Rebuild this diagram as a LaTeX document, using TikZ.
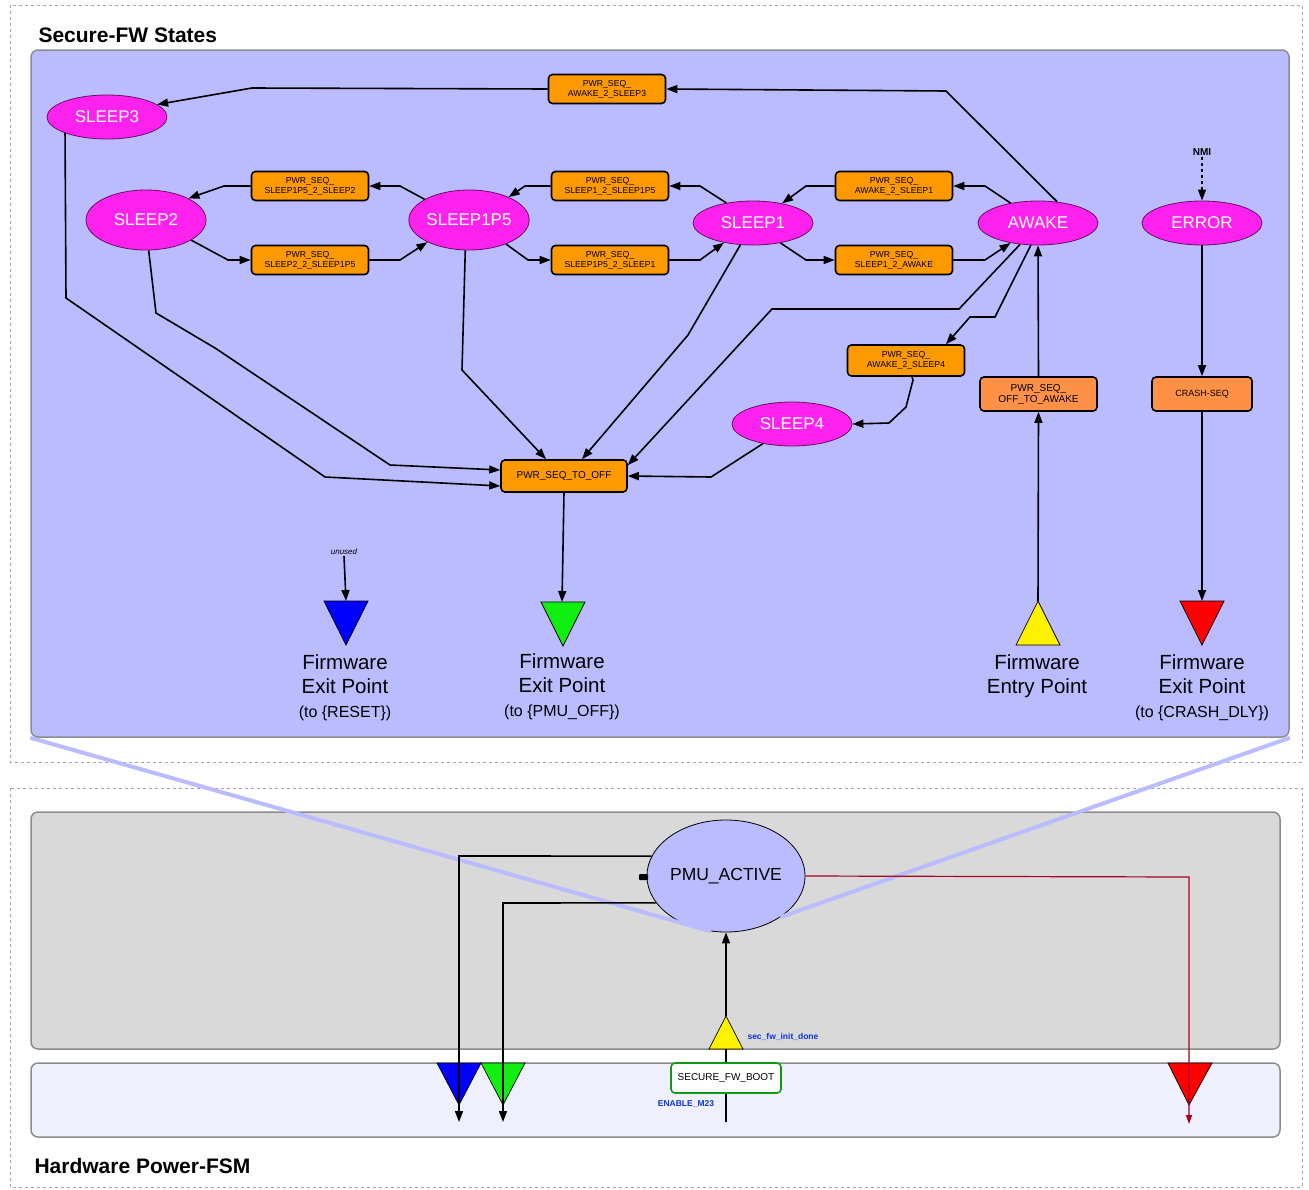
\documentclass[tikz,border=0pt]{standalone}
\usepackage{fontspec}
\setmainfont{Liberation Sans}
\usetikzlibrary{arrows.meta,shapes.geometric,calc}

\definecolor{panel}{HTML}{BBBBFF}
\definecolor{mag}{HTML}{FF22EE}
\definecolor{orng}{HTML}{FF9900}
\definecolor{salmon}{HTML}{FF9147}
\definecolor{hwgray}{HTML}{D9D9D9}
\definecolor{hwlight}{HTML}{EEF0FD}
\definecolor{darkred}{HTML}{A8001E}
\definecolor{lblblue}{HTML}{1133DD}
\definecolor{bordergray}{HTML}{8C8C8C}
\definecolor{sfbgreen}{HTML}{119911}
\definecolor{fwgreen}{HTML}{11EE11}

\tikzset{
  state/.style={ellipse, draw=black!60!mag, line width=0.8pt, fill=mag, text=white,
    minimum width=120pt, minimum height=44pt, inner sep=0pt, font=\fontsize{17}{17}\selectfont},
  bigstate/.style={state, minimum height=60pt},
  seqbox/.style={rectangle, rounded corners=4pt, draw=black, line width=1.6pt, fill=orng,
    minimum width=117pt, minimum height=29pt, inner sep=0pt, align=center,
    font=\fontsize{8.7}{10}\selectfont},
  salmonbox/.style={seqbox, fill=salmon, minimum height=34pt, font=\fontsize{10}{11}\selectfont},
  conn/.style={draw=black, line width=1.6pt, -{Triangle[length=11pt,width=8pt]}},
  plainconn/.style={draw=black, line width=1.6pt},
  dashbox/.style={draw=gray!70, line width=1pt, dash pattern=on 3pt off 3pt},
  panelbox/.style={draw=bordergray, line width=1.5pt, rounded corners=7pt},
  proj/.style={draw=panel, line width=4pt},
  fwlabel/.style={align=center, font=\fontsize{20.5}{24}\selectfont},
  tri/.style={draw=black, line width=0.7pt},
  smallblue/.style={text=lblblue, font=\bfseries\fontsize{8.5}{9}\selectfont},
  title/.style={anchor=west, font=\bfseries\fontsize{21}{22}\selectfont}
}

\begin{document}
\begin{tikzpicture}[x=1pt,y=-1pt]
\useasboundingbox (0,0) rectangle (1309,1189);
\fill[white] (0,0) rectangle (1309,1189);

% ---------- containers ----------
\draw[dashbox] (10,5) rectangle (1302,762);
\draw[dashbox] (10,788) rectangle (1302,1187);
\node[title] (t1) at (35,35) {Secure-FW States};
\node[title] (t2) at (31,1166) {Hardware Power-FSM};

\node[panelbox, fill=panel, minimum width=1258pt, minimum height=687pt, inner sep=0pt] (fwpanel) at (660,393.5) {};
\node[panelbox, fill=hwgray, minimum width=1249pt, minimum height=237pt, inner sep=0pt] (hwpanel) at (655.5,930.5) {};
\node[panelbox, fill=hwlight, minimum width=1249pt, minimum height=74pt, inner sep=0pt] (hwlow) at (655.5,1100) {};

% ---------- firmware states ----------
\node[state] (s3) at (107,117) {SLEEP3};
\node[bigstate] (s2) at (146,220) {SLEEP2};
\node[bigstate] (s15) at (469,220) {SLEEP1P5};
\node[state] (s1) at (753,223) {SLEEP1};
\node[state] (aw) at (1038,223) {AWAKE};
\node[state] (er) at (1202,223) {ERROR};
\node[state] (s4) at (792,424) {SLEEP4};

\node[seqbox] (a2s3) at (607,89) {PWR\_SEQ\_\\AWAKE\_2\_SLEEP3};
\node[seqbox] (p15s2) at (310,186) {PWR\_SEQ\_\\SLEEP1P5\_2\_SLEEP2};
\node[seqbox] (s2s15) at (310,260) {PWR\_SEQ\_\\SLEEP2\_2\_SLEEP1P5};
\node[seqbox] (s1s15) at (610,186) {PWR\_SEQ\_\\SLEEP1\_2\_SLEEP1P5};
\node[seqbox] (s15s1) at (610,260) {PWR\_SEQ\_\\SLEEP1P5\_2\_SLEEP1};
\node[seqbox] (a2s1) at (894,186) {PWR\_SEQ\_\\AWAKE\_2\_SLEEP1};
\node[seqbox] (s1a) at (894,260) {PWR\_SEQ\_\\SLEEP1\_2\_AWAKE};
\node[seqbox, minimum height=31pt] (a2s4) at (906,360.5) {PWR\_SEQ\_\\AWAKE\_2\_SLEEP4};
\node[salmonbox] (o2a) at (1038.5,394) {PWR\_SEQ\_\\OFF\_TO\_AWAKE};
\node[salmonbox, minimum width=100pt, font=\fontsize{9}{10}\selectfont] (crash) at (1202,394) {CRASH-SEQ};
\node[seqbox, minimum width=126pt, minimum height=32pt, font=\fontsize{10}{11}\selectfont] (off) at (564,476) {PWR\_SEQ\_TO\_OFF};

% ---------- firmware triangles ----------
\draw[tri, fill=blue] (324,601) -- (368,601) -- (346,645) -- cycle;
\coordinate (bluetop) at (346,601);
\draw[tri, fill=fwgreen] (541,602) -- (585,602) -- (563,646) -- cycle;
\coordinate (greentop) at (562,602);
\draw[tri, fill=yellow] (1016,645) -- (1060,645) -- (1038,601) -- cycle;
\coordinate (yellowtip) at (1038,601);
\draw[tri, fill=red] (1180,601) -- (1224,601) -- (1202,645) -- cycle;
\coordinate (redtop) at (1202,601);

\node[fwlabel] (l1) at (345,688) {Firmware\\Exit Point\\{\fontsize{16}{24}\selectfont (to \{RESET\})}};
\node[fwlabel] (l2) at (562,687) {Firmware\\Exit Point\\{\fontsize{16}{24}\selectfont (to \{PMU\_OFF\})}};
\node[fwlabel] (l3) at (1037,676) {Firmware\\Entry Point};
\node[fwlabel] (l4) at (1202,688) {Firmware\\Exit Point\\{\fontsize{16}{24}\selectfont (to \{CRASH\_DLY\})}};

\node[font=\itshape\fontsize{8}{9}\selectfont, inner sep=1pt] (unused) at (344,552) {unused};
\node[font=\bfseries\fontsize{10}{11}\selectfont, inner sep=1pt] (nmi) at (1202,152) {NMI};

% ---------- firmware connectors ----------
\draw[conn] (aw.48) -- (946,91) -- (a2s3.east);
\draw[conn] (a2s3.west) -- (252,88) -- (s3.14);
\draw[conn] (s15.155) -- (400,186) -- (p15s2.east);
\draw[conn] (p15s2.west) -- (224,186) -- (s2.27);
\draw[conn] (s2.-24) -- (228,260) -- (s2s15.west);
\draw[conn] (s2s15.east) -- (400,260) -- (s15.208);
\draw[conn] (s1.143) -- (700,186) -- (s1s15.east);
\draw[conn] (s1s15.west) -- (525,186) -- (s15.30);
\draw[conn] (s15.-33) -- (528,260) -- (s15s1.west);
\draw[conn] (s15s1.east) -- (700,260) -- (s1.214);
\draw[conn] (aw.144) -- (985,186) -- (a2s1.east);
\draw[conn] (a2s1.west) -- (806,186) -- (s1.34);
\draw[conn] (s1.-36) -- (806,260) -- (s1a.west);
\draw[conn] (s1a.east) -- (985,260) -- (aw.216);
\draw[conn] (aw.-130) -- (959,309) -- (772,309) -- ([yshift=-6pt]off.north east);
\draw[conn] (aw.-108) -- (995,317) -- (970,317) -- ([xshift=40pt]a2s4.north);
\draw[conn] ([xshift=6pt]a2s4.south) -- (913,380) -- (906,407) -- (889,423) -- (s4.east);
\draw[conn] (s4.214) -- (711,477) -- (off.east);
\draw[conn] (s1.-120) -- (688,335) -- ([xshift=18pt]off.north);
\draw[conn] (s15.-97) -- (462,370) -- ([xshift=-18pt]off.north);
\draw[conn] (s2.-85) -- (156,313) -- (215,348) -- (390,465) -- ([yshift=6pt]off.west);
\draw[conn] (s3.201) -- (66,298) -- (325,477) -- ([yshift=-10pt]off.west);
\draw[conn] (off.south) -- (greentop);
\draw[conn] (unused.south) -- (bluetop);
\draw[conn] (yellowtip) -- (o2a.south);
\draw[conn] (o2a.north) -- (aw.south);
\draw[conn] (er.south) -- (crash.north);
\draw[conn] (crash.south) -- (redtop);
\draw[conn, dash pattern=on 3pt off 3pt] (nmi.south) -- (er.north);

% ---------- hardware part ----------
\node[ellipse, draw=black, line width=0.8pt, fill=panel, minimum width=158pt, minimum height=112pt, inner sep=0pt,
  font=\fontsize{17.5}{18}\selectfont] (pmu) at (726,876) {PMU\_ACTIVE};
\fill[black, rounded corners=1pt] (639,874) rectangle (648,880);

\draw[proj] (fwpanel.south west) -- (pmu.-105);
\draw[proj] (fwpanel.south east) -- (pmu.-37);

\node[rectangle, rounded corners=4pt, draw=sfbgreen, line width=1.6pt, fill=white, minimum width=110pt,
  minimum height=30pt, inner sep=0pt, font=\fontsize{10}{11}\selectfont] (sfb) at (726,1078) {SECURE\_FW\_BOOT};

\draw[tri, fill=blue] (437,1063) -- (481,1063) -- (459,1105) -- cycle;
\draw[tri, fill=fwgreen] (481,1063) -- (525,1063) -- (503,1105) -- cycle;
\draw[tri, fill=red] (1168,1063) -- (1212,1063) -- (1189,1105) -- cycle;
\draw[tri, fill=yellow] (709,1049) -- (743,1049) -- (726,1016) -- cycle;
\coordinate (ytip) at (726,1016);
\coordinate (ybase) at (726,1049);
\coordinate (blueend) at (459,1122);
\coordinate (greenend) at (503,1122);
\coordinate (redend) at (1189,1124);
\coordinate (enin) at (726,1122);

\draw[conn] (pmu.165) -- (459,856) -- (blueend);
\draw[conn] (pmu.201) -- (503,903) -- (greenend);
\draw[conn, draw=darkred, line width=1.2pt, -{Triangle[length=9pt,width=6pt]}, color=darkred]
  (pmu.east) -- (1189,877) -- (redend);
\draw[conn] (ytip) -- (pmu.south);
\draw[plainconn] (sfb.north) -- (ybase);
\draw[plainconn] (enin) -- (sfb.south);

\node[smallblue, anchor=west] (initdone) at (744,1037) {sec\_fw\_init\_done};
\node[smallblue] (enable) at (686,1104) {ENABLE\_M23};
\end{tikzpicture}
\end{document}
